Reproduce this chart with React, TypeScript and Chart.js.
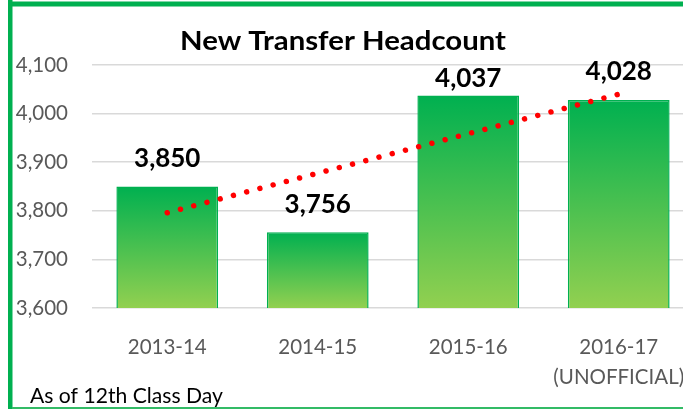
import React, { useEffect, useRef } from "react";
import { Chart, registerables } from "chart.js";

Chart.register(...registerables);

// ---- data ----
const categories: (string | string[])[] = ["2013-14", "2014-15", "2015-16", ["2016-17", "(UNOFFICIAL)"]];
const headcount: number[] = [3850, 3756, 4037, 4028];
// linear trendline endpoints (first and last category)
const trendline: (number | null)[] = [3796, null, null, 4040];
const yMin = 3600;
const yMax = 4100;
const yStep = 100;
const chartTitle = "New Transfer Headcount";
const footnote = "As of 12th Class Day";

// ---- style constants ----
const CANVAS_W = 700;
const CANVAS_H = 410;
const GREEN = "#00B050";
const LIGHT_GREEN = "#92D050";
const GRAY = "#595959";
const LABEL_LIFT = [19.5, 19.5, 8.5, 19.5];
const TITLE_W = 326;
const FOOT_W = 193;

const fmt = (v: number) => v.toLocaleString("en-US");

function drawFitted(c: CanvasRenderingContext2D, text: string, x: number, y: number, targetW: number, align: "left" | "center") {
  const w = c.measureText(text).width;
  const sx = targetW / w;
  c.save();
  c.translate(x, y);
  c.scale(sx, 1);
  c.textAlign = align;
  c.fillText(text, 0, 0);
  c.restore();
}

const decorPlugin = {
  id: "decor",
  beforeDraw(chart: any) {
    const c = chart.ctx;
    c.save();
    c.fillStyle = "#ffffff";
    c.fillRect(0, 0, chart.width, chart.height);
    c.restore();
  },
  afterDatasetsDraw(chart: any) {
    const c = chart.ctx;
    const meta = chart.getDatasetMeta(0);
    c.save();
    c.font = "bold 26px Lato";
    c.fillStyle = "#000000";
    c.textAlign = "center";
    c.textBaseline = "alphabetic";
    meta.data.forEach((el: any, i: number) => {
      c.fillText(fmt(headcount[i]), el.x, el.y - LABEL_LIFT[i]);
    });
    c.restore();
  },
  afterDraw(chart: any) {
    const c = chart.ctx;
    c.save();
    c.fillStyle = "#000000";
    c.textBaseline = "alphabetic";
    // title
    c.font = "bold 26px Lato";
    drawFitted(c, chartTitle, 343, 49.5, TITLE_W, "center");
    // footnote
    c.font = "20.5px Lato";
    drawFitted(c, footnote, 30, 403, FOOT_W, "left");
    // frame
    c.fillStyle = GREEN;
    c.fillRect(8, 0, 4.5, 409);
    c.fillRect(8, 1.5, chart.width, 5);
    c.fillStyle = "#33BB66";
    c.fillRect(12, 407, chart.width, 2);
    c.restore();
  },
};

export default function App() {
  const ref = useRef<HTMLCanvasElement | null>(null);

  useEffect(() => {
    if (!ref.current) return;
    const chart = new Chart(ref.current, {
      type: "bar",
      data: {
        labels: categories,
        datasets: [
          {
            type: "bar",
            data: headcount,
            backgroundColor: (ctx: any) => {
              const ch = ctx.chart;
              const area = ch.chartArea;
              if (!area || ctx.type !== "data" || !ctx.parsed) return GREEN;
              const top = ch.scales.y.getPixelForValue(ctx.parsed.y);
              const bottom = ch.scales.y.getPixelForValue(yMin);
              const g = ch.ctx.createLinearGradient(0, top, 0, bottom);
              g.addColorStop(0, GREEN);
              g.addColorStop(1, LIGHT_GREEN);
              return g;
            },
            borderColor: GREEN,
            borderWidth: 1.5,
            categoryPercentage: 1,
            barPercentage: 0.676,
            order: 2,
          } as any,
          {
            type: "line",
            data: trendline,
            spanGaps: true,
            borderColor: "#FF0000",
            borderWidth: 5.5,
            borderDash: [0.001, 13.68],
            borderCapStyle: "round",
            pointRadius: 0,
            pointHoverRadius: 0,
            fill: false,
            tension: 0,
            order: 1,
          } as any,
        ],
      },
      options: {
        responsive: false,
        animation: false,
        devicePixelRatio: 1,
        layout: { padding: { left: 12, right: 6, top: 65, bottom: 0 } },
        plugins: {
          legend: { display: false },
          tooltip: { enabled: false },
          title: { display: false },
        },
        scales: {
          x: {
            grid: { display: false },
            border: { display: false },
            ticks: {
              color: GRAY,
              font: { family: "Lato", size: 20.5, lineHeight: 1.46 },
              padding: 16,
              maxRotation: 0,
              autoSkip: false,
            },
            afterFit: (s: any) => {
              s.height = 102;
              s.paddingLeft = 0;
              s.paddingRight = 0;
            },
          },
          y: {
            min: yMin,
            max: yMax,
            grid: { color: "#D9D9D9", lineWidth: 1.5, drawTicks: false },
            border: { display: false },
            ticks: {
              stepSize: yStep,
              color: GRAY,
              font: { family: "Lato", size: 20.5 },
              padding: 24,
              callback: (v: any) => fmt(Number(v)),
            },
            afterFit: (s: any) => {
              s.width = 80;
              s.paddingTop = 0;
              s.paddingBottom = 0;
            },
          },
        },
      },
      plugins: [decorPlugin],
    });
    return () => chart.destroy();
  }, []);

  return (
    <div
      style={{
        position: "fixed",
        left: 0,
        top: 0,
        width: 683,
        height: 410,
        overflow: "hidden",
        background: "#fff",
      }}
    >
      <canvas ref={ref} width={CANVAS_W} height={CANVAS_H} style={{ display: "block" }} />
    </div>
  );
}
